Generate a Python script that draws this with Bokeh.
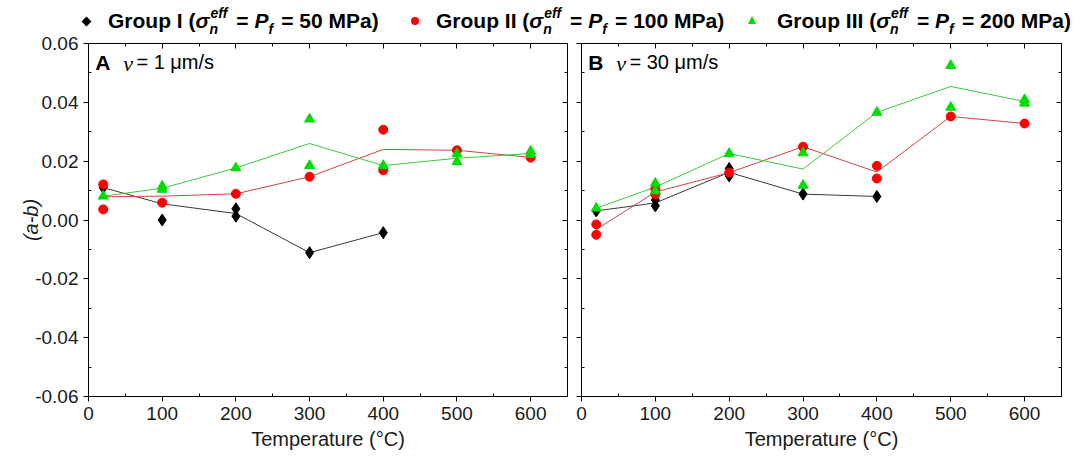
from bokeh.plotting import figure
from bokeh.models import (LinearAxis, Range1d, Label, Div, FixedTicker, PrintfTickFormatter,
                          CustomJSTickFormatter)
from bokeh.layouts import row, column
from bokeh.embed import file_html
from bokeh.resources import INLINE

# ---------------- data ----------------
x_ticks = [0, 100, 200, 300, 400, 500, 600]
x_minor = [50, 150, 250, 350, 450, 550, 650]
y_ticks = [-0.06, -0.04, -0.02, 0.0, 0.02, 0.04, 0.06]
y_minor = [-0.05, -0.03, -0.01, 0.01, 0.03, 0.05]

# Panel A (v = 1 um/s)
a_g1_pt_T = [20, 100, 200, 200, 300, 400]
a_g1_pt_v = [0.0110, 0.0000, 0.0038, 0.0013, -0.0111, -0.0043]
a_g1_ln_T = [20, 100, 200, 300, 400]
a_g1_ln_v = [0.0110, 0.0055, 0.0022, -0.0111, -0.0043]

a_g2_pt_T = [20, 20, 100, 200, 300, 400, 400, 500, 600]
a_g2_pt_v = [0.0121, 0.0036, 0.0059, 0.0089, 0.0147, 0.0307, 0.0169, 0.0237, 0.0212]
a_g2_ln_T = [20, 100, 200, 300, 400, 500, 600]
a_g2_ln_v = [0.0079, 0.0081, 0.0089, 0.0147, 0.0240, 0.0237, 0.0213]

a_g3_pt_T = [20, 100, 100, 200, 300, 300, 400, 500, 500, 600, 600]
a_g3_pt_v = [0.0081, 0.0115, 0.0104, 0.0177, 0.0343, 0.0185, 0.0185, 0.0225, 0.0198, 0.0234, 0.0223]
a_g3_ln_T = [20, 100, 200, 300, 400, 500, 600]
a_g3_ln_v = [0.0081, 0.0108, 0.0177, 0.0260, 0.0185, 0.0210, 0.0226]

# Panel B (v = 30 um/s)
b_g1_pt_T = [20, 100, 100, 200, 200, 300, 400]
b_g1_pt_v = [0.0031, 0.0068, 0.0048, 0.0175, 0.0150, 0.0088, 0.0080]
b_g1_ln_T = [20, 100, 200, 300, 400]
b_g1_ln_v = [0.0031, 0.0058, 0.0162, 0.0088, 0.0080]

b_g2_pt_T = [20, 20, 100, 100, 200, 300, 400, 400, 500, 600]
b_g2_pt_v = [-0.0015, -0.0050, 0.0105, 0.0088, 0.0161, 0.0249, 0.0184, 0.0141, 0.0352, 0.0328]
b_g2_ln_T = [20, 100, 200, 300, 400, 500, 600]
b_g2_ln_v = [-0.0032, 0.0095, 0.0161, 0.0249, 0.0163, 0.0352, 0.0328]

b_g3_pt_T = [20, 100, 100, 200, 300, 300, 400, 500, 500, 600, 600]
b_g3_pt_v = [0.0040, 0.0125, 0.0099, 0.0226, 0.0228, 0.0118, 0.0366, 0.0525, 0.0383, 0.0409, 0.0397]
b_g3_ln_T = [20, 100, 200, 300, 400, 500, 600]
b_g3_ln_v = [0.0040, 0.0112, 0.0226, 0.0173, 0.0366, 0.0454, 0.0403]

legend_labels = ["Group I", "Group II", "Group III"]
legend_mpa = ["50 MPa", "100 MPa", "200 MPa"]

FONT = "Liberation Sans"
MARK = {"g1": "#000000", "g2": "#ff0000", "g3": "#00dd00"}
LINE = {"g1": "#3a3a3a", "g2": "#d04444", "g3": "#3cc83c"}

BLANK = CustomJSTickFormatter(code="return ''")

DIV_H = 28
TOP_B = 15


def style_axis(ax, labels=True, out_major=5, in_major=0, in_minor=3):
    ax.axis_line_color = "black"
    ax.axis_line_width = 1
    ax.major_tick_line_color = "black"
    ax.minor_tick_line_color = "black"
    ax.major_tick_out = out_major
    ax.major_tick_in = in_major
    ax.minor_tick_out = 0
    ax.minor_tick_in = in_minor
    ax.major_label_text_font = FONT
    ax.major_label_text_font_size = "19px"
    ax.major_label_text_color = "#1a1a1a"
    ax.major_label_standoff = 5 if labels else 0
    if not labels:
        ax.formatter = BLANK


def make_panel(letter, speed, series, left_labels, width, bl, br):
    p = figure(width=width, height=457 - DIV_H, output_backend="svg", toolbar_location=None,
               x_range=Range1d(0, 650), y_range=Range1d(-0.06, 0.06),
               min_border_left=bl, min_border_right=br, min_border_top=TOP_B, min_border_bottom=61)
    p.xgrid.grid_line_color = None
    p.ygrid.grid_line_color = None
    p.outline_line_color = "black"
    p.background_fill_color = "white"
    p.border_fill_color = None

    p.xaxis.ticker = FixedTicker(ticks=x_ticks, minor_ticks=x_minor)
    p.yaxis.ticker = FixedTicker(ticks=y_ticks, minor_ticks=y_minor)
    if left_labels:
        p.yaxis.formatter = PrintfTickFormatter(format="%.2f")
    style_axis(p.xaxis[0])
    style_axis(p.yaxis[0], labels=left_labels)
    p.xaxis.axis_label = "Temperature (°C)"
    p.xaxis.axis_label_text_font = FONT
    p.xaxis.axis_label_text_font_size = "20px"
    p.xaxis.axis_label_text_font_style = "normal"
    p.xaxis.axis_label_text_color = "#1a1a1a"
    p.xaxis.axis_label_standoff = 5
    if left_labels:
        p.yaxis.axis_label = "(a-b)"
        p.yaxis.axis_label_text_font = FONT
        p.yaxis.axis_label_text_font_size = "20px"
        p.yaxis.axis_label_text_font_style = "italic"
        p.yaxis.axis_label_text_color = "#1a1a1a"
        p.yaxis.axis_label_standoff = -10

    top = LinearAxis(ticker=FixedTicker(ticks=x_ticks, minor_ticks=x_minor))
    style_axis(top, labels=False, out_major=0, in_major=5, in_minor=3)
    p.add_layout(top, "above")
    right = LinearAxis(ticker=FixedTicker(ticks=y_ticks, minor_ticks=y_minor))
    style_axis(right, labels=False, out_major=0, in_major=5, in_minor=3)
    p.add_layout(right, "right")

    (g1pT, g1pv, g1lT, g1lv), (g2pT, g2pv, g2lT, g2lv), (g3pT, g3pv, g3lT, g3lv) = series
    p.line(g1lT, g1lv, line_color=LINE["g1"], line_width=1)
    p.line(g2lT, g2lv, line_color=LINE["g2"], line_width=1)
    p.line(g3lT, g3lv, line_color=LINE["g3"], line_width=1)
    p.scatter(g1pT, g1pv, marker="diamond", size=12, fill_color=MARK["g1"], line_color=MARK["g1"])
    p.scatter(g2pT, g2pv, marker="circle", size=9, fill_color=MARK["g2"], line_color=MARK["g2"])
    p.scatter(g3pT, g3pv, marker="triangle", size=10, fill_color=MARK["g3"], line_color=MARK["g3"])

    p.add_layout(Label(x=9, y=0.0575, text=letter, text_font=FONT, text_font_size="21px",
                       text_font_style="bold", text_baseline="top", text_color="black"))
    p.add_layout(Label(x=47, y=0.0575, text="ν", text_font="Liberation Serif", text_font_size="22px",
                       text_font_style="italic", text_baseline="top", text_color="black"))
    p.add_layout(Label(x=65, y=0.0575, text=speed, text_font=FONT, text_font_size="20px",
                       text_baseline="top", text_color="black"))
    return p


pa = make_panel("A", "= 1 μm/s",
                [(a_g1_pt_T, a_g1_pt_v, a_g1_ln_T, a_g1_ln_v),
                 (a_g2_pt_T, a_g2_pt_v, a_g2_ln_T, a_g2_ln_v),
                 (a_g3_pt_T, a_g3_pt_v, a_g3_ln_T, a_g3_ln_v)],
                True, 574, 88, 7)
pb = make_panel("B", "= 30 μm/s",
                [(b_g1_pt_T, b_g1_pt_v, b_g1_ln_T, b_g1_ln_v),
                 (b_g2_pt_T, b_g2_pt_v, b_g2_ln_T, b_g2_ln_v),
                 (b_g3_pt_T, b_g3_pt_v, b_g3_ln_T, b_g3_ln_v)],
                False, 501, 7, 14)


def marker_html(kind, color, cx):
    if kind == "diamond":
        return (f'<span style="position:absolute;left:{cx-3}px;top:18px;width:7px;height:7px;'
                f'background:{color};transform:rotate(45deg)"></span>')
    if kind == "circle":
        return (f'<span style="position:absolute;left:{cx-4}px;top:17px;width:8px;height:8px;'
                f'background:{color};border-radius:50%"></span>')
    return (f'<span style="position:absolute;left:{cx-4}px;top:16px;width:0;height:0;'
            f'border-left:4px solid transparent;border-right:4px solid transparent;'
            f'border-bottom:8px solid {color}"></span>')


def item_html(mx, tx, kind, color, label, mpa):
    sig = ('<i>σ</i>'
           '<span style="display:inline-block;position:relative;width:21px;height:1px">'
           '<span style="position:absolute;left:1px;top:-21px;font-size:14px;line-height:14px;font-style:italic">eff</span>'
           '<span style="position:absolute;left:0px;top:-5px;font-size:14px;line-height:14px;font-style:italic">n</span>'
           '</span>')
    pf = ('<i>P</i><span style="display:inline-block;position:relative;width:7px;height:1px">'
          '<span style="position:absolute;left:0px;top:-5px;font-size:14px;line-height:14px;font-style:italic">f</span>'
          '</span>')
    return (marker_html(kind, color, mx)
            + f'<span style="position:absolute;left:{tx}px;top:9px;white-space:nowrap;line-height:24px">'
            f'{label} ({sig} = {pf} = {mpa})</span>')


legend_html = (
    f'<div style="position:relative;width:1075px;height:{DIV_H}px;overflow:visible;'
    f'font-family:\'{FONT}\',Arial,sans-serif;font-weight:bold;font-size:21px;color:#000">'
    + item_html(86, 108, "diamond", MARK["g1"], legend_labels[0], legend_mpa[0])
    + item_html(415, 436, "circle", MARK["g2"], legend_labels[1], legend_mpa[1])
    + item_html(752, 777, "triangle", MARK["g3"], legend_labels[2], legend_mpa[2])
    + '</div>'
)
div = Div(text=legend_html, width=1075, height=DIV_H, margin=(0, 0, 0, 0),
          styles={"overflow": "visible", "z-index": "5"})

layout = column(div, row(pa, pb, spacing=0), spacing=0)

open("out.html", "w").write(file_html(layout, INLINE))
